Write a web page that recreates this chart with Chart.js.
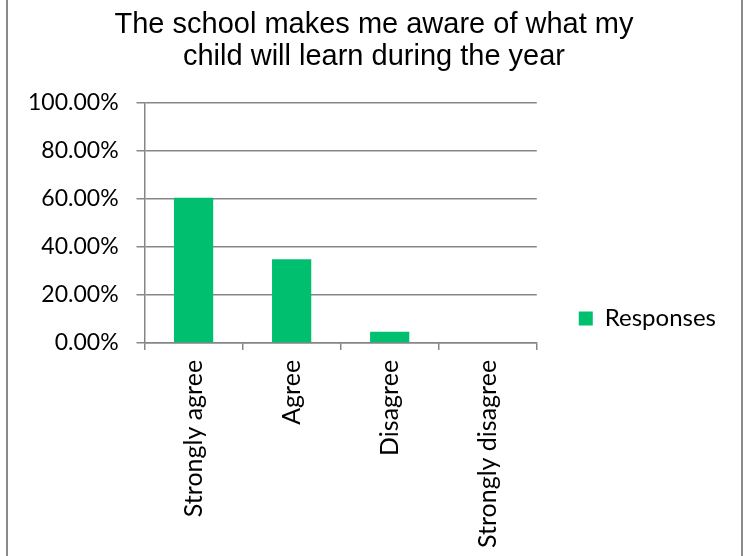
<!DOCTYPE html>
<html>
<head>
<meta charset="utf-8">
<script src="https://cdn.jsdelivr.net/npm/chart.js@4/dist/chart.umd.min.js"></script>
<style>
  html,body{margin:0;padding:0;background:#fff;overflow:hidden;}
  #frame{position:absolute;left:6px;top:-10px;width:733px;height:580px;border-left:2px solid #8a8a8a;border-right:2px solid #8a8a8a;}
  #wrap{position:absolute;left:0;top:0;width:743px;height:556px;}
</style>
</head>
<body>
<div id="frame"></div>
<div id="wrap"><canvas id="c"></canvas></div>
<script>
// ====== Data ======
const categories = ['Strongly agree','Agree','Disagree','Strongly disagree'];
const responses  = [60.47, 34.88, 4.65, 0]; // percent
const yTicks     = [0, 20, 40, 60, 80, 100];
const titleLines = ['The school makes me aware of what my','child will learn during the year'];

const GREEN = '#00bf6f', GRID = '#868686';
const bodyFont = "Lato, 'Open Sans', sans-serif";

// title centred on the whole frame; legend item sits a bit lower than the box centre
const nudge = { id:'nudge', afterLayout(chart){
  if(chart.titleBlock) chart.titleBlock.left += 12;
  if(chart.legend) chart.legend.top += 70;
} };

new Chart(document.getElementById('c'), {
  type:'bar',
  data:{ labels:categories, datasets:[{ label:'Responses', data:responses, backgroundColor:GREEN, borderWidth:0,
    barPercentage:0.4, categoryPercentage:1 }]},
  options:{
    responsive:true, maintainAspectRatio:false, animation:false,
    layout:{ padding:{ left:10, right:17, top:9, bottom:-2 } },
    plugins:{
      title:{ display:true, text:titleLines, color:'#000', font:{ family:"'Liberation Sans', Arial, sans-serif", size:29, weight:'normal', lineHeight:1.1 }, padding:{ top:0, bottom:30 } },
      // legend sits in its own column; maxWidth keeps the label from being cut
      legend:{ position:'right', maxWidth:260, labels:{ color:'#000', boxWidth:14, boxHeight:14, padding:42, font:{ family:bodyFont, size:24 } } },
      tooltip:{ enabled:false }
    },
    scales:{
      x:{
        offset:true,
        grid:{ offset:true, drawOnChartArea:false, color:GRID, tickLength:7, lineWidth:1.5 },
        border:{ color:GRID, width:1.5 },
        ticks:{ color:'#000', maxRotation:90, minRotation:90, padding:10, font:{ family:bodyFont, size:25 } }
      },
      y:{
        min:0, max:100,
        afterBuildTicks:ax=>{ ax.ticks = yTicks.map(v=>({value:v})); },
        grid:{ color:GRID, tickLength:8, lineWidth:1.5 },
        border:{ color:GRID, width:1.5 },
        ticks:{ color:'#000', padding:18, font:{ family:bodyFont, size:23 }, callback:v=>v.toFixed(2)+'%' }
      }
    }
  },
  plugins:[nudge]
});
</script>
</body>
</html>
